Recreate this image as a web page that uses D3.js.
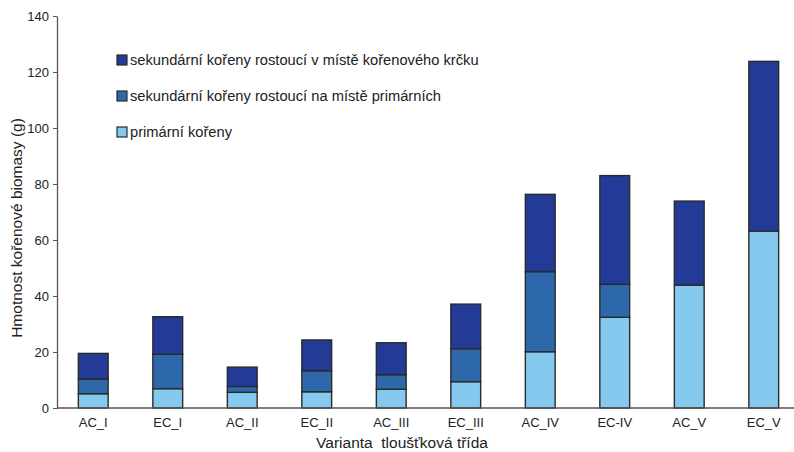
<!DOCTYPE html>
<html><head><meta charset="utf-8">
<script src="https://cdn.jsdelivr.net/npm/d3@7"></script>
<style>body{margin:0;background:#fff}svg{display:block;font-family:"Liberation Sans",Arial,sans-serif}</style>
</head><body><svg id="c" width="794" height="452"></svg>
<script>
const categories = ["AC_I","EC_I","AC_II","EC_II","AC_III","EC_III","AC_IV","EC-IV","AC_V","EC_V"];
const primarni = [5.1, 6.9, 5.6, 5.8, 6.7, 9.4, 20.1, 32.4, 43.9, 63.2];
const sekPrimarni = [5.3, 12.3, 2.1, 7.5, 5.2, 11.8, 28.6, 11.8, 0, 0];
const sekKrcek = [9.1, 13.4, 6.9, 11.0, 11.4, 15.9, 27.6, 38.8, 30.0, 60.6];
const seriesNames = ["primární kořeny","sekundární kořeny rostoucí na místě primárních","sekundární kořeny rostoucí v místě kořenového krčku"];
const yTicks = [0,20,40,60,80,100,120,140];
const colors = ["#86c9ee","#2d69aa","#233b97"];

const svg = d3.select("#c");
const x = d3.scaleBand().domain(categories).range([56, 801]).paddingInner(0.6).paddingOuter(0.3);
const y = d3.scaleLinear().domain([0,140]).range([408,16]);

const rows = categories.map((c,i)=>({cat:c, s0:primarni[i], s1:sekPrimarni[i], s2:sekKrcek[i]}));
const stack = d3.stack().keys(["s0","s1","s2"])(rows);

stack.forEach((layer,k)=>{
  svg.append("g").selectAll("rect").data(layer.filter(d=>d[1]-d[0]>0)).join("rect")
    .attr("x", d=>x(d.data.cat))
    .attr("width", x.bandwidth())
    .attr("y", d=>y(d[1]))
    .attr("height", d=>y(d[0])-y(d[1]))
    .attr("fill", colors[k])
    .attr("stroke", "#2a2a2a")
    .attr("stroke-width", 1.4);
});

// axes
const yAxis = svg.append("g").attr("transform","translate(57,0)")
  .call(d3.axisLeft(y).tickValues(yTicks).tickSize(4).tickPadding(4).tickSizeOuter(0));
yAxis.select(".domain").attr("stroke","#555").attr("stroke-width",1.3);
yAxis.selectAll(".tick line").attr("stroke","#555");
yAxis.selectAll("text").attr("font-size",13).attr("fill","#222").attr("font-family","Liberation Sans, Arial, sans-serif");

const xAxis = svg.append("g").attr("transform","translate(0,408)")
  .call(d3.axisBottom(x).tickSize(0).tickPadding(10));
xAxis.select(".domain").attr("stroke","#555").attr("stroke-width",1.3).attr("d","M57,0H794");
xAxis.selectAll("text").attr("font-size",13).attr("fill","#222").attr("font-family","Liberation Sans, Arial, sans-serif");

// axis titles
svg.append("text").attr("transform","translate(22,228) rotate(-90)")
  .attr("text-anchor","middle").attr("font-size",15.5).attr("fill","#222")
  .text("Hmotnost kořenové biomasy (g)");
svg.append("text").attr("x",402).attr("y",448)
  .attr("text-anchor","middle").attr("font-size",15.5).attr("fill","#222")
  .style("white-space","pre")
  .text("Varianta  tloušťková třída");

// legend
const legendOrder = [2,1,0];
const lg = svg.append("g");
legendOrder.forEach((k,i)=>{
  const yy = 60 + i*36;
  lg.append("rect").attr("x",117).attr("y",yy-5).attr("width",10).attr("height",10)
    .attr("fill",colors[k]).attr("stroke","#2a2a2a").attr("stroke-width",1.2);
  lg.append("text").attr("x",130).attr("y",yy+5).attr("font-size",14.7).attr("fill","#222")
    .text(seriesNames[k]);
});
</script></body></html>
